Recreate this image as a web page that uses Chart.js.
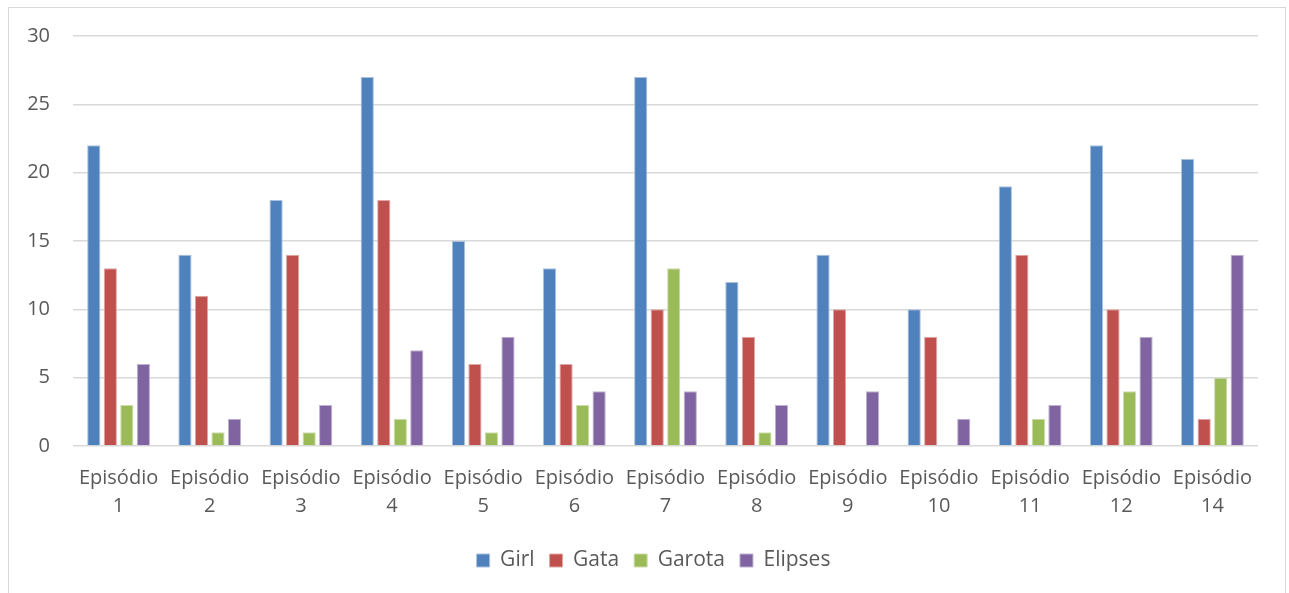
<!DOCTYPE html>
<html>
<head>
<meta charset="utf-8">
<script src="https://cdn.jsdelivr.net/npm/chart.js@4/dist/chart.umd.min.js"></script>
<style>
    html, body { margin: 0; padding: 0; background: #fff; overflow: hidden; }
    #frame {
        position: absolute;
        left: 8px;
        top: 7px;
        width: 1276px;
        height: 600px;
        border: 1px solid #d9d9d9;
        background: #fff;
    }
    #frame canvas { display: block; }
</style>
</head>
<body>
<div id="frame">
    <canvas id="episode-chart" width="1276" height="585"></canvas>
</div>
<script>
// 各集出現次數
const episodes = ['1', '2', '3', '4', '5', '6', '7', '8', '9', '10', '11', '12', '14'];
const girlCounts    = [22, 14, 18, 27, 15, 13, 27, 12, 14, 10, 19, 22, 21];
const gataCounts    = [13, 11, 14, 18, 6, 6, 10, 8, 10, 8, 14, 10, 2];
const garotaCounts  = [3, 1, 1, 2, 1, 3, 13, 1, 0, 0, 2, 4, 5];
const elipsesCounts = [6, 2, 3, 7, 8, 4, 4, 3, 4, 2, 3, 8, 14];
const yTicks = [0, 5, 10, 15, 20, 25, 30];

const palette = {
    girl:    { fill: '#4f81bd', edge: '#a9c1df' },
    gata:    { fill: '#c0504d', edge: '#dfa8a6' },
    garota:  { fill: '#9bbb59', edge: '#cddcac' },
    elipses: { fill: '#8064a2', edge: '#bfb1d0' }
};

const textColor = '#595959';
const gridColor = '#d9d9d9';
const fontFamily = '"Open Sans", "Liberation Sans", sans-serif';

function makeDataset(label, data, colors) {
    return {
        label: label,
        data: data,
        backgroundColor: colors.fill,
        borderColor: colors.edge,
        borderWidth: 1,
        barPercentage: 0.8,
        categoryPercentage: 0.725
    };
}

// 圖例整體往右挪一點
const legendShift = {
    id: 'legendShift',
    afterLayout(chart) {
        if (!chart.legend) return;
        chart.legend.left += 20;
        chart.legend.right += 20;
    }
};

const canvas = document.getElementById('episode-chart');

new Chart(canvas, {
    type: 'bar',
    data: {
        labels: episodes.map(n => ['Episódio', n]),
        datasets: [
            makeDataset('Girl', girlCounts, palette.girl),
            makeDataset('Gata', gataCounts, palette.gata),
            makeDataset('Garota', garotaCounts, palette.garota),
            makeDataset('Elipses', elipsesCounts, palette.elipses)
        ]
    },
    plugins: [legendShift],
    options: {
        responsive: false,
        animation: false,
        layout: {
            padding: { left: 0, right: 27, top: 28, bottom: 12 }
        },
        plugins: {
            tooltip: { enabled: false },
            legend: {
                position: 'bottom',
                labels: {
                    color: textColor,
                    font: { family: fontFamily, size: 21 },
                    boxWidth: 13,
                    boxHeight: 13,
                    padding: 15
                }
            }
        },
        scales: {
            x: {
                grid: { display: false, drawTicks: false },
                border: { display: false },
                ticks: {
                    color: textColor,
                    font: { family: fontFamily, size: 20, lineHeight: 1.4 },
                    maxRotation: 0,
                    padding: 18
                },
                afterFit: function(scale) {
                    scale.height = 89;
                }
            },
            y: {
                min: 0,
                max: 30,
                afterBuildTicks: function(scale) {
                    scale.ticks = yTicks.map(v => ({ value: v }));
                },
                grid: { color: gridColor, lineWidth: 1.5, drawTicks: false },
                border: { display: false },
                ticks: {
                    color: textColor,
                    font: { family: fontFamily, size: 20 },
                    padding: 23
                },
                afterFit: function(scale) {
                    scale.width = 64;
                    scale.paddingTop = 0;
                    scale.paddingBottom = 0;
                }
            }
        }
    }
});
</script>
</body>
</html>
